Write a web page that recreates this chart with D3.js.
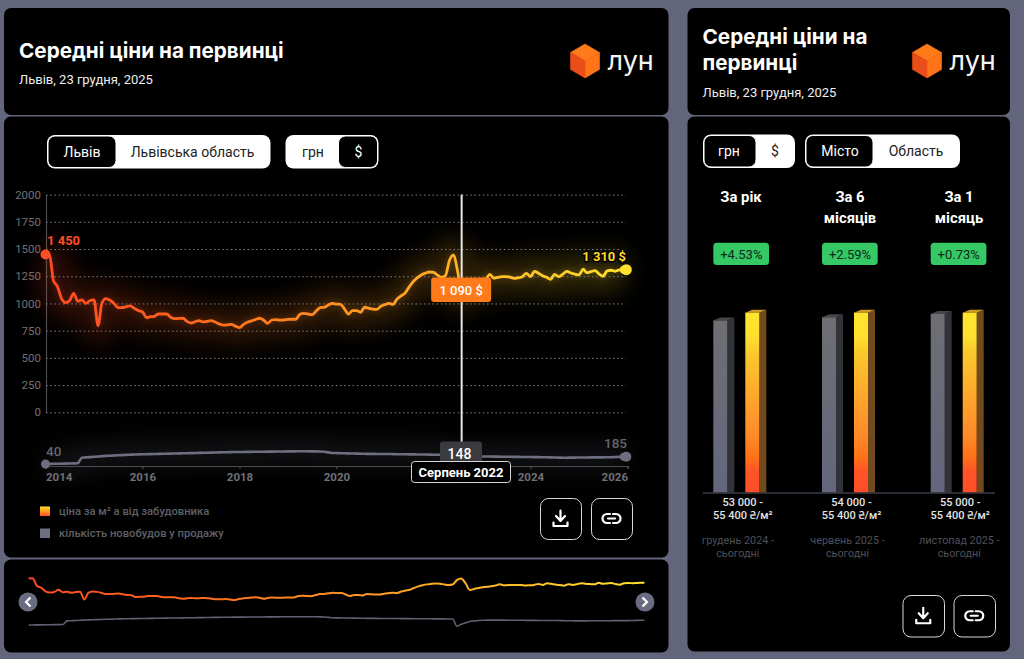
<!DOCTYPE html>
<html lang="uk"><head><meta charset="utf-8">
<script src="https://cdnjs.cloudflare.com/ajax/libs/d3/7.8.5/d3.min.js"></script>
<style>
html,body{margin:0;padding:0;background:#62657b;overflow:hidden}
svg{display:block}
text{font-family:Roboto,"Noto Sans",sans-serif}
.inter{font-family:Inter,Roboto,sans-serif}
</style></head><body><svg id="c" width="1024" height="659"></svg>
<script>
const priceUsd=[1450,1443,1215,1155,1047,1008,1025,1093,1020,1032,1000,1025,1032,796,1000,1044,1030,1000,962,962,970,977,955,935,
922,870,878,882,903,903,903,873,860,862,864,835,820,832,842,830,836,842,830,812,800,803,807,792,
778,808,828,840,852,864,848,818,848,852,846,848,853,855,855,900,908,903,897,930,962,965,985,1000,
994,992,950,903,935,935,919,965,955,948,946,975,990,1000,992,1040,1070,1095,1150,1200,1235,1262,1278,1289,
1285,1260,1240,1255,1395,1446,1300,1090,1120,1150,1170,1190,1205,1225,1268,1232,1240,1246,1246,1242,1230,1236,1246,1277,
1246,1295,1278,1255,1240,1222,1268,1246,1270,1295,1280,1270,1262,1314,1283,1292,1301,1270,1250,1300,1305,1296,1308,1310];
const buildingCount=[40,42,44,45,46,48,50,52,54,166,172,178,184,190,196,202,206,210,214,218,222,226,230,232,
234,236,238,240,242,244,246,248,250,252,254,256,258,260,262,264,266,268,270,272,274,276,278,279,
280,281,282,283,284,285,286,287,288,289,290,291,292,293,293,294,294,294,293,292,290,285,272,260,
258,256,254,252,250,248,246,244,243,242,241,241,240,240,238,236,235,234,233,232,231,230,229,228,
226,226,225,225,5,60,105,148,165,178,185,188,190,190,189,188,187,186,185,184,183,182,181,180,
179,178,177,176,175,172,170,168,166,166,167,168,169,170,171,172,172,173,173,174,174,180,183,185];
const priceTicks=[0,250,500,750,1000,1250,1500,1750,2000];
const yearTicks=[2014,2016,2018,2020,2022,2024,2026];
const hoverIndex=103;
const hoverDate="Серпень 2022";
const cityOptions=["Львів","Львівська область"];
const currencyOptions=["грн","$"];
const currencyOptions2=["грн","$"];
const scopeOptions=["Місто","Область"];
const periodTitles=[["За рік"],["За 6","місяців"],["За 1","місяць"]];
const periodChange=["+4.53%","+2.59%","+0.73%"];
const periodStart=[53000,54000,55000];
const periodEnd=[55400,55400,55400];
const priceRangeFrom=["53 000 -","54 000 -","55 000 -"];
const priceRangeTo=["55 400 ₴/м²","55 400 ₴/м²","55 400 ₴/м²"];
const periodFrom=["грудень 2024 -","червень 2025 -","листопад 2025 -"];
const legendItems=["ціна за м² а від забудовника","кількість новобудов у продажу"];

const dates=priceUsd.map((_,i)=>i===priceUsd.length-1?new Date(2025,11,23):new Date(2014,i,1));
const svg=d3.select("#c");
const defs=svg.append("defs");
function grad(id,attrs,stops){const g=defs.append("linearGradient").attr("id",id);
 Object.entries(attrs).forEach(([k,v])=>g.attr(k,v));
 stops.forEach(([o,c])=>g.append("stop").attr("offset",o).attr("stop-color",c));}
const lineStops=[[0,"#ff4a22"],[.2,"#ff5f1e"],[.42,"#ff8420"],[.68,"#ffad26"],[1,"#ffe22e"]];
grad("lineMain",{gradientUnits:"userSpaceOnUse",x1:46,x2:626,y1:0,y2:0},lineStops);
grad("lineMini",{gradientUnits:"userSpaceOnUse",x1:29,x2:644,y1:0,y2:0},lineStops);
const barStops=[[0,"#ffe52e"],[.13,"#ffe02e"],[.22,"#fbc92c"],[.5,"#ffa22c"],[.68,"#ff8a28"],[.8,"#ff7218"],[.88,"#ff5428"],[1,"#ff4d28"]];
grad("barHot",{x1:0,x2:0,y1:0,y2:1},barStops);
grad("barGray",{x1:0,x2:0,y1:0,y2:1},[[0,"#6d6f73"],[1,"#64667e"]]);
grad("legendHot",{x1:0,x2:0,y1:0,y2:1},[[0,"#ffe02e"],[.5,"#ff9a20"],[1,"#ff4d24"]]);
[["b1",11],["b2",3]].forEach(([id,s])=>{defs.append("filter").attr("id",id)
 .attr("x","-20%").attr("y","-300%").attr("width","140%").attr("height","700%")
 .append("feGaussianBlur").attr("stdDeviation",s);});

// panels
[[4,8,664.5,107],[4,116.5,664.5,441],[4,559.5,664.5,93],[687.5,8,322.5,107],[687.5,116.5,322.5,535]].forEach(p=>{
 svg.append("rect").attr("x",p[0]).attr("y",p[1]).attr("width",p[2]).attr("height",p[3]).attr("rx",7).attr("fill","#000");});

function label(t,x,y,o={}){const e=svg.append("text").attr("x",x).attr("y",y).text(t)
 .attr("fill",o.fill||"#fff").attr("font-size",o.size||13).attr("font-weight",o.weight||400)
 .attr("text-anchor",o.anchor||"start").attr("dominant-baseline","central");
 if(o.cls)e.attr("class",o.cls); if(o.halo)e.attr("stroke","#000").attr("stroke-width",o.halo).attr("paint-order","stroke");
 return e;}
function logo(cx,cy){const r=17,w=14.5,h=8.5;const T=[cx,cy-r],R=[cx+w,cy-h],RB=[cx+w,cy+h],B=[cx,cy+r],LB=[cx-w,cy+h],L=[cx-w,cy-h],C=[cx,cy];
 const poly=(pts,f)=>svg.append("polygon").attr("points",pts.map(p=>p.join(",")).join(" ")).attr("fill",f).attr("stroke",f).attr("stroke-width",.6).attr("stroke-linejoin","round");
 poly([T,R,C,L],"#ff7a18");poly([C,R,RB,B],"#ff7417");poly([L,C,B,LB],"#ea4d18");
 label("лун",cx+22.5,cy-.5,{size:27,cls:"inter",fill:"#f4f4f4"});}
function toggle(x,y,w,h,aw,activeLeft,labels,cx){
 svg.append("rect").attr("x",x).attr("y",y).attr("width",w).attr("height",h).attr("rx",8).attr("fill","#fff");
 const ax=activeLeft?x+1:x+w-aw-1;
 svg.append("rect").attr("x",ax).attr("y",y+1).attr("width",aw).attr("height",h-2).attr("rx",7).attr("fill","#000").attr("stroke","#fff").attr("stroke-width",1);
 labels.forEach((t,i)=>label(t,cx[i],y+h/2,{anchor:"middle",size:14,fill:(i===0)===activeLeft?"#fff":"#222"}));}
function iconButton(x,y,s,kind){
 svg.append("rect").attr("x",x+.5).attr("y",y+.5).attr("width",s).attr("height",s).attr("rx",8).attr("fill","#000").attr("stroke","#d8d8d8");
 const g=svg.append("g").attr("transform",`translate(${x+s/2},${y+s/2})`).attr("fill","none").attr("stroke","#fff").attr("stroke-width",2.2).attr("stroke-linecap","round").attr("stroke-linejoin","round");
 if(kind==="d"){g.append("path").attr("d","M0,-8V2M-4.5,-2.5L0,2.5L4.5,-2.5");g.append("path").attr("d","M-7,4V7.5H7V4");}
 else{g.append("path").attr("d","M-1.5,-4.5H-4.5A4.5,4.5 0 0 0 -4.5,4.5H-1.5M1.5,-4.5H4.5A4.5,4.5 0 0 1 4.5,4.5H1.5M-3.5,0H3.5");}
}

// headers
label("Середні ціни на первинці",19,50,{size:20.7,weight:700,cls:"inter"});
label("Львів, 23 грудня, 2025",19,79.5,{size:13,fill:"#eee"});
logo(585,61);
toggle(47,135,223.5,33.5,68,true,cityOptions,[82,192.5]);
toggle(285.5,135,93,33.5,39,false,currencyOptions,[313,358.5]);

// main chart
const x=d3.scaleTime().domain([new Date(2014,0,1),new Date(2026,0,1)]).range([45.5,627.5]);
const y=d3.scaleLinear().domain([0,2000]).range([412.3,194.6]);
const line=d3.line().x((d,i)=>x(dates[i])).y(d=>y(d)).curve(d3.curveMonotoneX);
const gm=svg.append("g");
gm.append("path").datum(priceUsd).attr("d",line).attr("fill","none").attr("stroke","url(#lineMain)").attr("stroke-width",36).attr("opacity",.17).attr("filter","url(#b1)");
gm.append("path").datum(priceUsd).attr("d",line).attr("fill","none").attr("stroke","url(#lineMain)").attr("stroke-width",6).attr("opacity",.16).attr("filter","url(#b2)");
const yAxis=svg.append("g").attr("transform","translate(46,0)").call(d3.axisLeft(y).tickValues(priceTicks).tickSize(0).tickPadding(5).tickFormat(d3.format("d")));
yAxis.select(".domain").attr("stroke","#4c4c50").attr("stroke-width",1.2);
yAxis.selectAll("text").attr("fill","#707075").attr("font-size",11.5).attr("font-family","Roboto");
const grid=svg.append("g").attr("transform","translate(46,0)").call(d3.axisLeft(y).tickValues(priceTicks).tickSize(-580).tickFormat(""));
grid.select(".domain").remove();
grid.selectAll("line").attr("stroke","#7a7a7a").attr("stroke-width",1).attr("stroke-dasharray","1.6 2.6");
gm.raise();grid.raise();
svg.append("path").datum(priceUsd).attr("d",line).attr("fill","none").attr("stroke","url(#lineMain)").attr("stroke-width",2.8).attr("stroke-linejoin","round");
const hx=x(dates[hoverIndex]);
svg.append("line").attr("x1",hx).attr("x2",hx).attr("y1",194.6).attr("y2",442).attr("stroke","#e8e8e8").attr("stroke-width",2);
svg.append("circle").attr("cx",x(dates[0])).attr("cy",y(priceUsd[0])).attr("r",5).attr("fill","#ff4d24");
const lastI=priceUsd.length-1;
svg.append("circle").attr("cx",x(dates[lastI])).attr("cy",y(priceUsd[lastI])).attr("r",5.5).attr("fill","#ffe22e");
svg.append("circle").attr("cx",x(dates[lastI])-2.5).attr("cy",y(priceUsd[lastI])).attr("r",4).attr("fill","#ffe22e");
label("1 450",47,240.5,{size:13,weight:700,fill:"#ff4d24"});
label("1 310 $",626,256,{size:13,weight:700,fill:"#ffd92e",anchor:"end",halo:3});
svg.append("rect").attr("x",hx-30.5).attr("y",277.5).attr("width",60).attr("height",24.5).attr("rx",3).attr("fill","#ff7a18");
label(d3.format(",")(priceUsd[hoverIndex]).replace(","," ")+" $",hx-.5,290,{anchor:"middle",size:13,weight:500});

// count sub-chart
const yc=d3.scaleLinear().domain([0,300]).range([466,451]);
const lineC=d3.line().x((d,i)=>x(dates[i])).y(d=>yc(d)).curve(d3.curveMonotoneX);
svg.append("path").datum(buildingCount).attr("d",lineC).attr("fill","none").attr("stroke","#6d6f80").attr("stroke-width",26).attr("opacity",.17).attr("filter","url(#b1)");
const xAxis=svg.append("g").attr("transform","translate(0,466)").call(d3.axisBottom(x).tickValues(yearTicks.map(v=>new Date(v,0,1))).tickSize(3).tickPadding(4)
 .tickFormat(d=>d.getFullYear()===dates[hoverIndex].getFullYear()?"":d3.timeFormat("%Y")(d)));
xAxis.select(".domain").attr("stroke","#4c4c50").attr("stroke-width",1.2);
xAxis.selectAll("line").attr("stroke","#55555a");
xAxis.selectAll("text").attr("fill","#707075").attr("font-size",11.5).attr("font-weight",700).attr("font-family","Roboto")
 .attr("text-anchor",(d,i)=>i===0?"start":i===yearTicks.length-1?"end":"middle");
svg.append("path").datum(buildingCount).attr("d",lineC).attr("fill","none").attr("stroke","#6d6f80").attr("stroke-width",2.6);
svg.append("circle").attr("cx",x(dates[0])).attr("cy",yc(buildingCount[0])).attr("r",4.5).attr("fill","#6d6f80");
svg.append("circle").attr("cx",x(dates[lastI])).attr("cy",yc(buildingCount[lastI])).attr("r",5).attr("fill","#6d6f80");
svg.append("circle").attr("cx",x(dates[lastI])-2.5).attr("cy",yc(buildingCount[lastI])).attr("r",4).attr("fill","#6d6f80");
label(buildingCount[0],46,451,{size:13.5,fill:"#65656c",weight:500});
label(buildingCount[lastI],627,443,{size:13.5,fill:"#65656c",anchor:"end",weight:500});
svg.append("rect").attr("x",440).attr("y",441.5).attr("width",42).attr("height",22).attr("rx",3).attr("fill","#3a3b3f");
label(buildingCount[hoverIndex],459.5,453.5,{anchor:"middle",size:14,weight:500});
svg.append("rect").attr("x",411.5).attr("y",461.5).attr("width",99).attr("height",21).attr("rx",3).attr("fill","#000").attr("stroke","#d8d8d8");
label(hoverDate,461,472,{anchor:"middle",size:13,weight:700});

// legend
svg.append("rect").attr("x",40).attr("y",506.5).attr("width",10).attr("height",9.5).attr("fill","url(#legendHot)");
svg.append("rect").attr("x",40).attr("y",528.5).attr("width",10).attr("height",9.5).attr("fill","#6d6f80");
legendItems.forEach((t,i)=>label(t,59,511+i*22,{size:11.2,weight:500,fill:"#5f6068"}));
iconButton(540,498,41,"d");iconButton(591,498,41,"l");

// mini overview
const xm=d3.scaleTime().domain([dates[0],dates[lastI]]).range([28.6,644.4]);
const ym=d3.scaleLinear().domain([1450,778]).range([578.3,600]);
const ymc=d3.scaleLinear().domain([40,294]).range([625,616.7]);
svg.append("path").datum(priceUsd).attr("d",d3.line().x((d,i)=>xm(dates[i])).y(d=>ym(d)).curve(d3.curveMonotoneX)).attr("fill","none").attr("stroke","url(#lineMini)").attr("stroke-width",2);
svg.append("path").datum(buildingCount).attr("d",d3.line().x((d,i)=>xm(dates[i])).y(d=>ymc(d)).curve(d3.curveMonotoneX)).attr("fill","none").attr("stroke","#5f6170").attr("stroke-width",1.6);
[[28,"M2.5,-4.5L-2,0L2.5,4.5"],[645,"M-2.5,-4.5L2,0L-2.5,4.5"]].forEach(([cx,d])=>{
 svg.append("circle").attr("cx",cx).attr("cy",602).attr("r",9.5).attr("fill","#6a6d82");
 svg.append("path").attr("d",d).attr("transform",`translate(${cx},602)`).attr("fill","none").attr("stroke","#fff").attr("stroke-width",2.2);});

// right panel
label("Середні ціни на",702.5,36,{size:20.7,weight:700,cls:"inter"});
label("первинці",702.5,62.5,{size:20.7,weight:700,cls:"inter"});
label("Львів, 23 грудня, 2025",702.5,92,{size:13,fill:"#eee"});
logo(927,61);
toggle(703,134.5,92,33.5,52,true,currencyOptions2,[729,775]);
toggle(805,134.5,155,33.5,67,true,scopeOptions,[840,916]);

const xb=d3.scalePoint().domain(d3.range(3)).range([713.3,930.7]);
const cols=[741,850,959];
const h=d3.scaleLinear().domain([0,55400]).range([0,180]);
const base=492.7,bw=14,sd=7,up=3;
function bar3d(x0,v,fillF,fillS,fillT){const t=base-h(v);
 svg.append("polygon").attr("points",`${x0+bw},${t} ${x0+bw+sd},${t-up} ${x0+bw+sd},${base} ${x0+bw},${base}`).attr("fill",fillS);
 svg.append("polygon").attr("points",`${x0},${t} ${x0+sd},${t-up} ${x0+bw+sd},${t-up} ${x0+bw},${t}`).attr("fill",fillT);
 svg.append("rect").attr("x",x0).attr("y",t).attr("width",bw).attr("height",base-t).attr("fill",fillF);}
periodStart.forEach((v,i)=>{const c=cols[i],b=xb(i);
 periodTitles[i].forEach((t,j)=>label(t,c,197+j*20.7,{anchor:"middle",size:14.8,weight:700}));
 svg.append("rect").attr("x",b).attr("y",242.7).attr("width",55.7).attr("height",22.3).attr("rx",3.5).attr("fill","#35c865");
 label(periodChange[i],b+28,254,{anchor:"middle",size:13,fill:"#0e2a18"});
 bar3d(b,v,"url(#barGray)","#323338","#46474c");
 bar3d(b+32,periodEnd[i],"url(#barHot)","#714a1e","#c89a22");
 label(priceRangeFrom[i],b+29.5,502.7,{anchor:"middle",size:11,weight:500,fill:"#e4e4e4"});
 label(priceRangeTo[i],b+29.5,515.7,{anchor:"middle",size:11,weight:500,fill:"#e4e4e4"});
 label(periodFrom[i],b+[24.5,25.5,28.6][i],540.3,{anchor:"middle",size:10.8,fill:"#4f5058"});
 label("сьогодні",b+[24.5,25.5,28.6][i],553.3,{anchor:"middle",size:10.8,fill:"#4f5058"});
});
svg.append("line").attr("x1",702.7).attr("x2",995).attr("y1",493).attr("y2",493).attr("stroke","#3a3a46").attr("stroke-width",1.5);
iconButton(902.5,595,41.5,"d");iconButton(953.5,595,41.5,"l");
</script></body></html>
